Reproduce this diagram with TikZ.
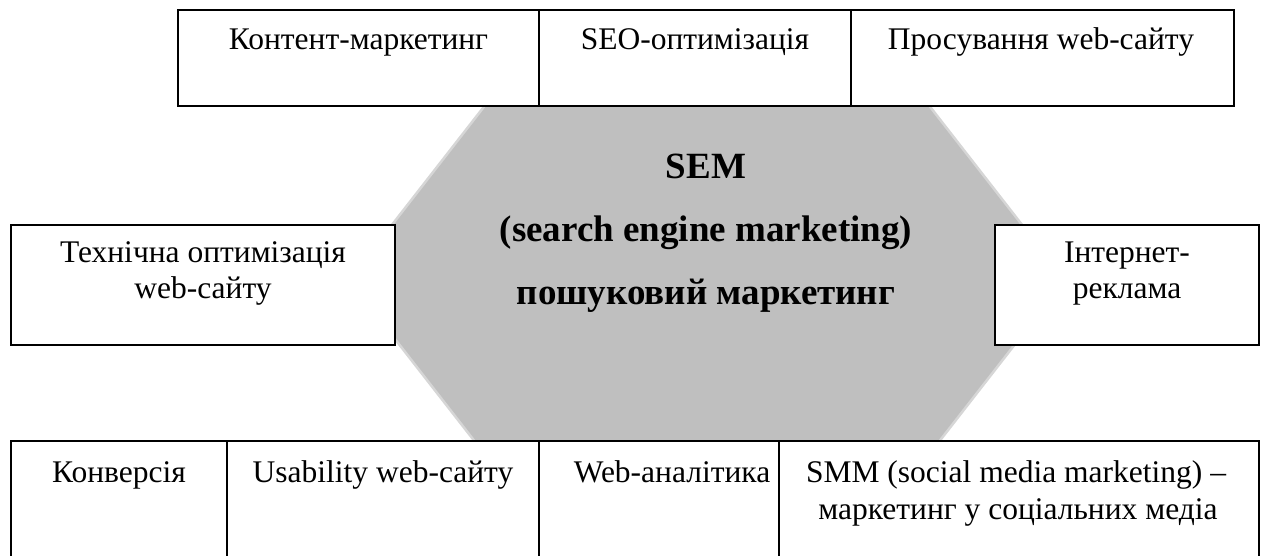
\documentclass[tikz,border=0pt]{standalone}
\usepackage{fontspec}
\setmainfont{Liberation Serif}
\begin{document}
\begin{tikzpicture}[x=1pt,y=-1pt,
  cell/.style={draw=black, fill=white, line width=1.6pt, inner sep=0pt, outer sep=0pt},
  lbl/.style={anchor=base, inner sep=0pt, font=\fontsize{31.5}{36}\selectfont},
  head/.style={anchor=base, inner sep=0pt, font=\fontsize{37}{42}\selectfont\bfseries},
  hexfill/.style={fill=black!25, draw=black!16, line width=2.5pt, line join=miter}]
\useasboundingbox (0,0) rectangle (1262,556);
\clip (0,0) rectangle (1262,556);

% central hexagon (drawn first, the boxes sit on top of it)
\coordinate (hl) at (349,280);
\coordinate (hr) at (1065,280);
\coordinate (htl) at (497,90);
\coordinate (htr) at (917,90);
\coordinate (hbl) at (497,470);
\coordinate (hbr) at (917,470);
\filldraw[hexfill] (htl) -- (htr) -- (hr) -- (hbr) -- (hbl) -- (hl) -- cycle;

\node[head] (sem)  at (706,179) {SEM};
\node[head] (semen) at (706,242) {(search engine marketing)};
\node[head] (semua) at (706,305) {пошуковий маркетинг};

% top row
\node[cell, minimum width=361, minimum height=96] (kont) at (358.5,58) {};
\node[cell, minimum width=312, minimum height=96] (seo)  at (695,58) {};
\node[cell, minimum width=383, minimum height=96] (pros) at (1042.5,58) {};
\node[lbl] (kont-t) at (358.5,50) {Контент-маркетинг};
\node[lbl] (seo-t)  at (695,50) {SEO-оптимізація};
\node[lbl] (pros-t) at (1041,50) {Просування web-сайту};

% middle row
\node[cell, minimum width=384, minimum height=120] (tech) at (203,285) {};
\node[cell, minimum width=264, minimum height=120] (inet) at (1127,285) {};
\node[lbl] (tech-a) at (203,263) {Технічна оптимізація};
\node[lbl] (tech-b) at (203,299) {web-сайту};
\node[lbl] (inet-a) at (1127,263) {Інтернет-};
\node[lbl] (inet-b) at (1127,299) {реклама};

% bottom row
\node[cell, minimum width=216, minimum height=119] (konv) at (119,500.5) {};
\node[cell, minimum width=312, minimum height=119] (usab) at (383,500.5) {};
\node[cell, minimum width=240, minimum height=119] (wan)  at (659,500.5) {};
\node[cell, minimum width=480, minimum height=119] (smm)  at (1019,500.5) {};
\node[lbl] (konv-t) at (119,482) {Конверсія};
\node[lbl] (usab-t) at (383,482) {Usability web-сайту};
\node[lbl] (wan-t)  at (672,482) {Web-аналітика};
\node[lbl] (smm-a)  at (1016,482) {SMM (social media marketing) –};
\node[lbl] (smm-b)  at (1018,519) {маркетинг у соціальних медіа};
\end{tikzpicture}
\end{document}
